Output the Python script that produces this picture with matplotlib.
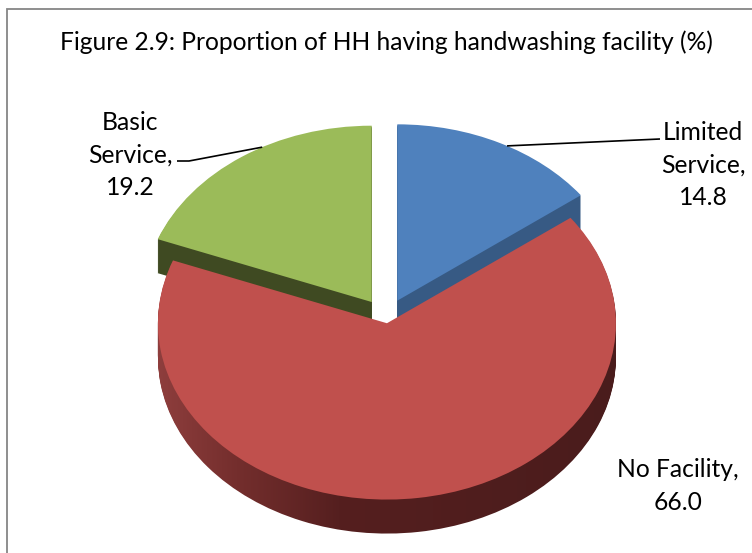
import numpy as np
import matplotlib
matplotlib.use("Agg")
import matplotlib.pyplot as plt
from matplotlib.colors import LinearSegmentedColormap
from matplotlib.patches import Rectangle

# ---- data ----
categories = ["Limited\nService", "No Facility", "Basic\nService"]
values = [14.8, 66.0, 19.2]
top_colors = ["#4f81bd", "#c0504d", "#9bbb59"]
side_colors = ["#375a84", "#4f1e1e", "#3f4a22"]
explode_frac = [0.11, 0.03, 0.11]
title = "Figure 2.9: Proportion of HH having handwashing facility (%)"

# ---- layout (pixels) ----
W, H = 752, 553
S = 0.77          # vertical squash (tilt of the pie)
R = 229           # pie radius in px (horizontal)
CX, CY = 386, 318
DEPTH = 34
FONT = ["Lato", "DejaVu Sans"]
FS = 17.7

explode = [e * R for e in explode_frac]

fig = plt.figure(figsize=(W / 100, H / 100), dpi=100)
ax = fig.add_axes([0, 0, 1, 1])


def to_data(x, y):
    return x, (H - y) / S


center = to_data(CX, CY)
red_cmap = LinearSegmentedColormap.from_list(
    "redside", [(0.0, "#903f3e"), (0.18, "#742e2d"), (0.40, "#551f1f"), (1.0, "#4a1c1c")])
grad = np.linspace(0, 1, 256).reshape(1, -1)

z = 1
for k in range(DEPTH, 0, -1):
    c = (center[0], center[1] - k / S)
    wedges, _ = ax.pie(values, radius=R, center=c, startangle=90, counterclock=False,
                       explode=explode, colors=side_colors,
                       wedgeprops=dict(linewidth=0, antialiased=True))
    for i, w in enumerate(wedges):
        w.set_zorder(z)
        if i == 1:
            w.set_facecolor("none")
            im = ax.imshow(grad, cmap=red_cmap, aspect="auto",
                           extent=(CX - R - 5, CX + R + 5, 0, H / S), zorder=z)
            im.set_clip_path(w)
    z += 1

top_wedges, _ = ax.pie(values, radius=R, center=center, startangle=90, counterclock=False,
                       explode=explode, colors=top_colors,
                       wedgeprops=dict(linewidth=0, antialiased=True))
for w in top_wedges:
    w.set_zorder(z + 1)

ax.set_aspect("auto")
ax.set_xlim(0, W)
ax.set_ylim(0, H / S)
ax.set_axis_off()


def anchor(w, offset=0.0):
    t = np.deg2rad((w.theta1 + w.theta2) / 2 + offset)
    cx, cy = w.center
    return cx + w.r * np.cos(t), cy + w.r * np.sin(t)


# leader lines
ax_g = anchor(top_wedges[2], -6)
p1, p2 = to_data(177, 161), to_data(189, 161)
ax.plot([p1[0], p2[0], ax_g[0]], [p1[1], p2[1], ax_g[1]], color="black", lw=1.2,
        zorder=z + 5, solid_capstyle="butt")
ax_b = anchor(top_wedges[0], -2)
p3 = to_data(660, 139)
ax.plot([ax_b[0], p3[0]], [ax_b[1], p3[1]], color="black", lw=1.2, zorder=z + 5,
        solid_capstyle="butt")

# labels
label_pos = [(703, 165), (678, 486), (130, 155)]
for cat, v, (lx, ly) in zip(categories, values, label_pos):
    tx, ty = to_data(lx, ly)
    ax.text(tx, ty, f"{cat},\n{v:.1f}", ha="center", va="center", multialignment="center",
            fontsize=FS, family=FONT, linespacing=1.5, zorder=z + 6)

fig.text(386 / W, 1 - 42 / H, title, ha="center", va="center", fontsize=FS, family=FONT)

fig.add_artist(Rectangle((7 / W, -0.1), 1.2, (H - 9) / H + 0.1, transform=fig.transFigure,
                         fill=False, ec="#868686", lw=1.3))

fig.savefig("out.png", dpi=100)
